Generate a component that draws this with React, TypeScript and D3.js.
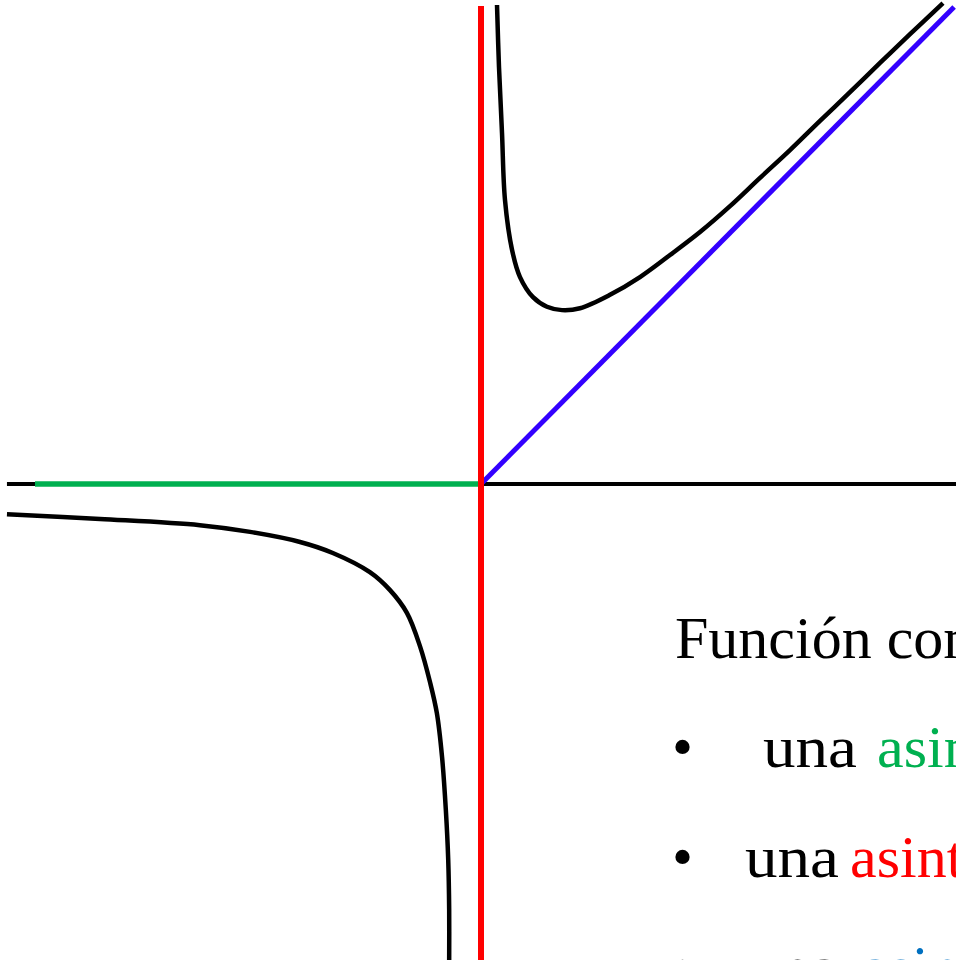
import React from "react";
import * as d3 from "d3";

const W = 956;
const H = 960;

// Right branch of the function (x > 0)
const rightX = [0.337, 0.379, 0.442, 0.505, 0.653, 0.821, 1.095, 1.389, 1.705, 2.084, 2.716, 3.347, 3.979, 4.611, 5.242, 5.874, 6.505, 7.137, 7.768, 8.40, 9.032, 9.726];
const rightY = [10.0, 8.70, 7.33, 5.93, 4.89, 4.32, 3.90, 3.70, 3.63, 3.67, 3.95, 4.32, 4.78, 5.26, 5.80, 6.39, 6.97, 7.58, 8.18, 8.79, 9.39, 10.04];

// Left branch of the function (x < 0)
const leftX = [-9.98, -8.02, -5.92, -4.86, -3.81, -3.12, -2.34, -1.92, -1.56, -1.28, -1.07, -0.93, -0.82, -0.74, -0.69, -0.67, -0.67];
const leftY = [-0.63, -0.73, -0.86, -1.0, -1.21, -1.44, -1.84, -2.21, -2.69, -3.40, -4.15, -4.78, -5.70, -6.81, -7.85, -8.89, -10.0];

// Asymptotes
const horizAsym = { x0: -9.39, x1: 0, y: 0 };
const vertAsym = { x: 0, y0: -10.0, y1: 9.98 };
const obliqueX = [0, 9.96];

const axisXRange = [-9.98, 10.0];

const title = "Función con:";
const bullets = [
  { pre: "una", word: "asintota horizontal", color: "#00b050", textX: 763, wordX: 877 },
  { pre: "una", word: "asintota vertical", color: "#ff0000", textX: 745, wordX: 850 },
  { pre: "una", word: "asintota oblicua", color: "#0070c0", textX: 745, wordX: 862 },
];

export default function App() {
  const x = d3.scaleLinear().domain([-10, 10]).range([6, 956]);
  const y = d3.scaleLinear().domain([-10, 10]).range([963, 5]);

  const line = d3
    .line<[number, number]>()
    .x((d) => x(d[0]))
    .y((d) => y(d[1]))
    .curve(d3.curveCatmullRom.alpha(0.5));

  const right: [number, number][] = rightX.map((v, i) => [v, rightY[i]]);
  const left: [number, number][] = leftX.map((v, i) => [v, leftY[i]]);

  const font = "'Liberation Serif', 'Times New Roman', serif";
  const fs = 60;

  return (
    <svg
      width={W}
      height={H}
      style={{ position: "absolute", left: 0, top: 0, background: "#fff" }}
    >
      <rect width={W} height={H} fill="#fff" />
      {/* x axis */}
      <line x1={x(axisXRange[0])} x2={x(axisXRange[1])} y1={y(0)} y2={y(0)} stroke="#000" strokeWidth={4} />
      {/* horizontal asymptote */}
      <line x1={x(horizAsym.x0)} x2={x(horizAsym.x1)} y1={y(horizAsym.y)} y2={y(horizAsym.y)} stroke="#00b050" strokeWidth={5.5} />
      {/* oblique asymptote y = x */}
      <line x1={x(obliqueX[0])} x2={x(obliqueX[1])} y1={y(obliqueX[0])} y2={y(obliqueX[1])} stroke="#3300ff" strokeWidth={5} />
      {/* function branches */}
      <path d={line(right) || ""} fill="none" stroke="#000" strokeWidth={4.5} />
      <path d={line(left) || ""} fill="none" stroke="#000" strokeWidth={4.5} />
      {/* vertical asymptote */}
      <line x1={x(vertAsym.x)} x2={x(vertAsym.x)} y1={y(vertAsym.y0)} y2={y(vertAsym.y1)} stroke="#ff0000" strokeWidth={6} />
      {/* text */}
      <text x={675} y={658} fontFamily={font} fontSize={fs} fill="#000">{title}</text>
      {bullets.map((b, i) => {
        const by = 767 + i * 110;
        return (
          <g key={i}>
            <text x={672} y={by} fontFamily={font} fontSize={fs} fill="#000">•</text>
            <text x={b.textX} y={by} fontFamily={font} fontSize={fs} fill="#000" textLength={94} lengthAdjust="spacingAndGlyphs">{b.pre}</text>
            <text x={b.wordX} y={by} fontFamily={font} fontSize={fs} fill={b.color}>{b.word}</text>
          </g>
        );
      })}
    </svg>
  );
}
